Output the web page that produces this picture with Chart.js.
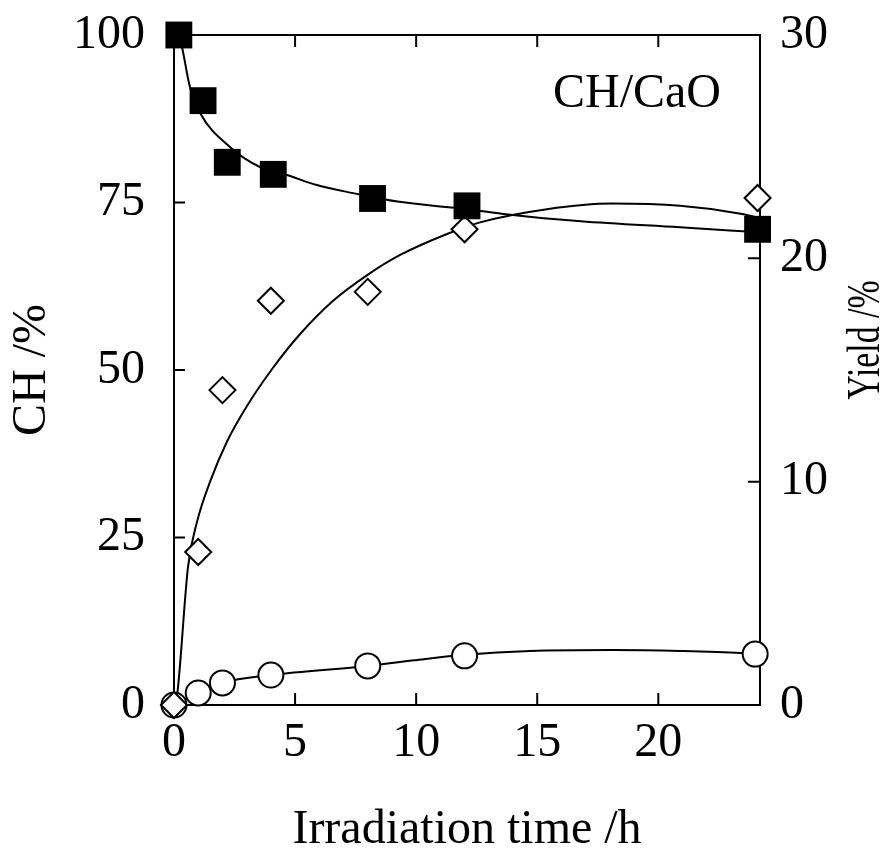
<!DOCTYPE html>
<html>
<head>
<meta charset="utf-8">
<script src="https://cdn.jsdelivr.net/npm/chart.js@4.4.0/dist/chart.umd.min.js"></script>
<style>
  html, body { margin: 0; padding: 0; background: #fff; }
  #wrap { width: 890px; height: 859px; }
</style>
</head>
<body>
<div id="wrap"><canvas id="chart"></canvas></div>
<script>
// measured points
const squareX = [0.2, 1.2, 2.2, 4.1, 8.2, 12.1, 24.1];
const squareY = [100, 90.2, 81, 79.2, 75.6, 74.5, 71];          // CH /%

const diamondX = [0, 1, 2, 4, 8, 12, 24.1];
const diamondY = [0, 6.85, 14.1, 18.1, 18.5, 21.3, 22.7];       // Yield /%

const circleX = [0, 1, 2, 4, 8, 12, 24];
const circleY = [0, 0.54, 0.99, 1.34, 1.75, 2.2, 2.28];         // Yield /%

// fitted curves
const chCurveX = [0.2, 0.33, 0.66, 1.07, 2.31, 3.55, 4.67, 5.9, 7.4, 9.3, 11.6, 13.6, 16.8, 20.9, 24];
const chCurveY = [100, 98.2, 92.2, 88.4, 83.3, 80.3, 79.1, 77.6, 76.4, 75.1, 74.2, 73.3, 72.2, 71.3, 70.6];

const yieldCurveX = [0, 0.12, 0.58, 0.95, 1.49, 2.19, 3.02, 4.09, 5.2, 6.57, 7.98, 9.34, 11.3, 12.6, 15.4, 18.1, 20.9, 23.4, 24];
const yieldCurveY = [0, 0.36, 6.2, 8.2, 10.0, 11.8, 13.4, 15.1, 16.6, 18.1, 19.25, 20.15, 21.1, 21.6, 22.2, 22.45, 22.35, 22.0, 21.85];

const lowCurveX = [0, 1, 2, 4, 8, 9.9, 12, 14.7, 18.1, 20.9, 23.4, 24];
const lowCurveY = [0, 0.54, 0.99, 1.34, 1.75, 2.0, 2.25, 2.42, 2.46, 2.42, 2.33, 2.28];

const xTicks = [0, 5, 10, 15, 20];
const leftTicks = [0, 25, 50, 75, 100];
const rightTicks = [0, 10, 20, 30];

const FONT = '"Liberation Serif", "Times New Roman", serif';

function pts(xs, ys) {
  return xs.map((x, i) => ({ x: x, y: ys[i] }));
}

// keep label overhang out of the layout so the plot box sits where the original does
function fixSize(prop, size) {
  return s => {
    s[prop] = size;
    s.paddingTop = 0; s.paddingBottom = 0; s.paddingLeft = 0; s.paddingRight = 0;
  };
}

const framePlugin = {
  id: 'frame',
  beforeDatasetsDraw(chart) {
    const { ctx, chartArea: a, scales } = chart;
    ctx.save();
    ctx.strokeStyle = '#000';
    ctx.lineWidth = 2;
    ctx.strokeRect(a.left, a.top, a.right - a.left, a.bottom - a.top);
    ctx.beginPath();
    xTicks.forEach(v => {
      if (v === 0) return;
      const px = scales.x.getPixelForValue(v);
      ctx.moveTo(px, a.bottom); ctx.lineTo(px, a.bottom - 12);
      ctx.moveTo(px, a.top); ctx.lineTo(px, a.top + 12);
    });
    leftTicks.forEach(v => {
      if (v === 0 || v === 100) return;
      const py = scales.yL.getPixelForValue(v);
      ctx.moveTo(a.left, py); ctx.lineTo(a.left + 11, py);
    });
    rightTicks.forEach(v => {
      if (v === 0 || v === 30) return;
      const py = scales.yR.getPixelForValue(v);
      ctx.moveTo(a.right, py); ctx.lineTo(a.right - 12, py);
    });
    ctx.stroke();
    ctx.restore();
  },
  afterDraw(chart) {
    const ctx = chart.ctx;
    ctx.save();
    ctx.fillStyle = '#000';
    ctx.font = '48px ' + FONT;
    ctx.textAlign = 'left';
    ctx.textBaseline = 'alphabetic';
    ctx.fillText('CH/CaO', 553, 107);

    // right axis title reads bottom to top
    ctx.translate(867, 340);
    ctx.rotate(-Math.PI / 2);
    ctx.scale(0.72, 1);
    ctx.font = '47px ' + FONT;
    ctx.textAlign = 'center';
    ctx.textBaseline = 'middle';
    ctx.fillText('Yield /%', 0, 0);
    ctx.restore();
  }
};

const markerBase = { showLine: false, borderColor: '#000', pointBorderColor: '#000', clip: false, order: 0 };
const curveBase = { borderColor: '#000', borderWidth: 2, pointRadius: 0, cubicInterpolationMode: 'monotone', fill: false, clip: false, order: 5 };

new Chart(document.getElementById('chart'), {
  type: 'line',
  data: {
    datasets: [
      Object.assign({}, curveBase, { data: pts(chCurveX, chCurveY), yAxisID: 'yL' }),
      Object.assign({}, curveBase, { data: pts(yieldCurveX, yieldCurveY), yAxisID: 'yR' }),
      Object.assign({}, curveBase, { data: pts(lowCurveX, lowCurveY), yAxisID: 'yR' }),
      Object.assign({}, markerBase, {
        data: pts(circleX, circleY), yAxisID: 'yR', order: 2,
        pointStyle: 'circle', pointRadius: 12.5, pointBackgroundColor: '#fff', pointBorderWidth: 2
      }),
      Object.assign({}, markerBase, {
        data: pts(diamondX, diamondY), yAxisID: 'yR', order: 1,
        pointStyle: 'rectRot', pointRadius: 13, pointBackgroundColor: '#fff', pointBorderWidth: 2
      }),
      Object.assign({}, markerBase, {
        data: pts(squareX, squareY), yAxisID: 'yL',
        pointStyle: 'rect', pointRadius: 19, pointBackgroundColor: '#000', pointBorderWidth: 0
      })
    ]
  },
  options: {
    responsive: true,
    maintainAspectRatio: false,
    animation: false,
    layout: { padding: { top: 35, left: 0, right: 0, bottom: 0 } },
    plugins: { legend: { display: false }, tooltip: { enabled: false } },
    scales: {
      x: {
        type: 'linear',
        min: 0,
        max: 24.2,
        afterFit: fixSize('height', 154),
        afterBuildTicks: s => { s.ticks = xTicks.map(v => ({ value: v })); },
        grid: { display: false, drawTicks: false },
        border: { display: false },
        ticks: { color: '#000', padding: 10, font: { family: FONT, size: 48 }, maxRotation: 0, autoSkip: false },
        title: {
          display: true, text: 'Irradiation time /h', color: '#000',
          font: { family: FONT, size: 48 }, padding: { top: 0, bottom: 0 }
        }
      },
      yL: {
        position: 'left',
        min: 0,
        max: 100,
        afterFit: fixSize('width', 174),
        afterBuildTicks: s => { s.ticks = leftTicks.map(v => ({ value: v })); },
        grid: { display: false, drawTicks: false },
        border: { display: false },
        ticks: { color: '#000', padding: 29, font: { family: FONT, size: 48 } },
        title: {
          display: true, text: 'CH /%', color: '#000',
          font: { family: FONT, size: 48 }, padding: { top: 4, bottom: 0 }
        }
      },
      yR: {
        position: 'right',
        min: 0,
        max: 30,
        afterFit: fixSize('width', 130),
        afterBuildTicks: s => { s.ticks = rightTicks.map(v => ({ value: v })); },
        grid: { display: false, drawTicks: false },
        border: { display: false },
        ticks: { color: '#000', padding: 20, font: { family: FONT, size: 48 } }
      }
    }
  },
  plugins: [framePlugin]
});
</script>
</body>
</html>
